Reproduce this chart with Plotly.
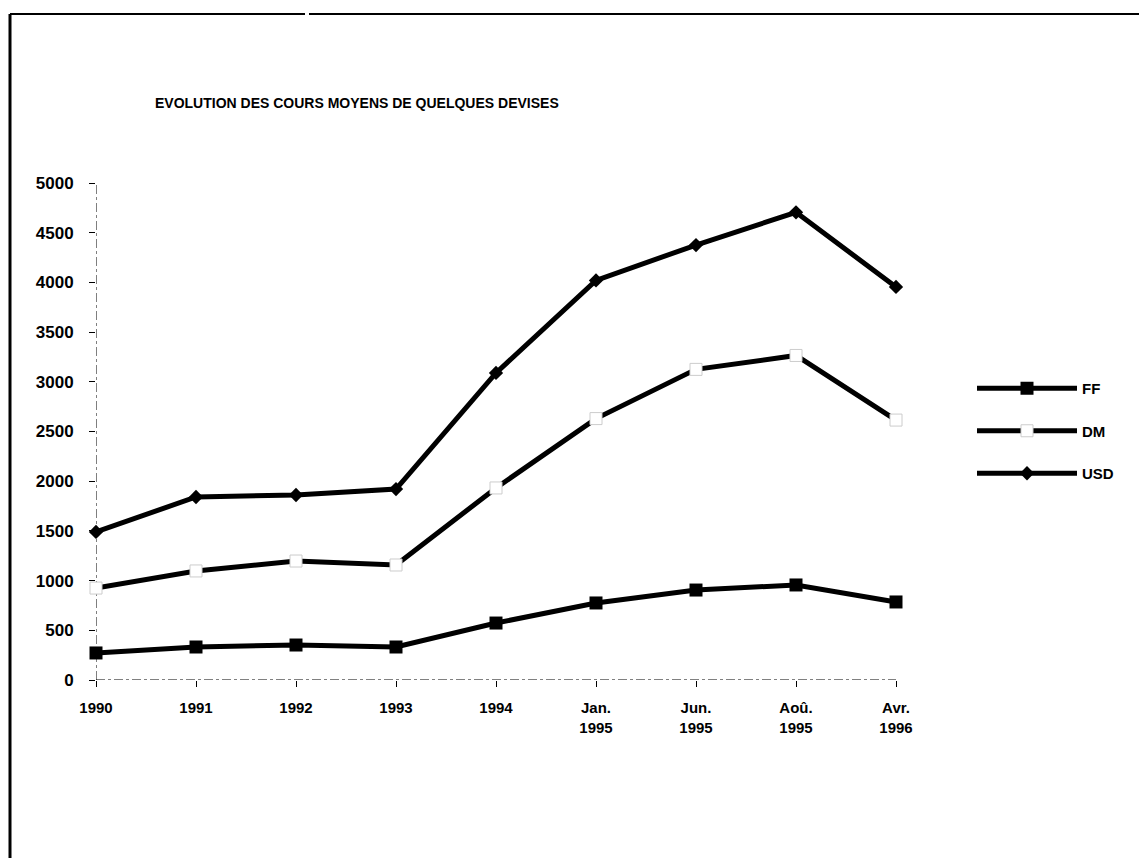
import plotly.graph_objects as go

categories = ["1990", "1991", "1992", "1993", "1994",
              "Jan.<br>1995", "Jun.<br>1995", "Aoû.<br>1995", "Avr.<br>1996"]
ff = [272, 332, 352, 332, 573, 775, 905, 956, 785]
dm = [925, 1097, 1197, 1157, 1932, 2630, 3125, 3265, 2615]
usd = [1490, 1841, 1861, 1921, 3089, 4020, 4376, 4705, 3954]
y_ticks = [0, 500, 1000, 1500, 2000, 2500, 3000, 3500, 4000, 4500, 5000]

xpos = list(range(len(categories)))

W, H = 1139, 858
L, R, T, B = 96, 223, 183, 178
pw, ph = W - L - R, H - T - B

def px(x):
    return (x - L) / pw

def py(y):
    return (H - B - y) / ph

fig = go.Figure()
fig.add_trace(go.Scatter(x=xpos, y=ff, name="FF", mode="lines+markers", legendgroup="a",
                         cliponaxis=False,
                         line=dict(color="black", width=5),
                         marker=dict(symbol="square", size=13, color="black")))
fig.add_trace(go.Scatter(x=xpos, y=dm, name="DM", mode="lines+markers", legendgroup="b",
                         cliponaxis=False,
                         line=dict(color="black", width=5),
                         marker=dict(symbol="square", size=12, color="white",
                                     line=dict(color="#cccccc", width=1))))
fig.add_trace(go.Scatter(x=xpos, y=usd, name="USD", mode="lines+markers", legendgroup="c",
                         cliponaxis=False,
                         line=dict(color="black", width=5),
                         marker=dict(symbol="diamond", size=11, color="black")))

shapes = [
    # axis lines (dash-dot)
    dict(type="line", xref="x", yref="y", x0=0, x1=0, y0=0, y1=5000, layer="below",
         line=dict(color="black", width=1, dash="dashdot")),
    dict(type="line", xref="x", yref="y", x0=0, x1=8, y0=0, y1=0, layer="below",
         line=dict(color="black", width=1, dash="dashdot")),
    # page frame
    dict(type="line", xref="paper", yref="paper", x0=px(10), x1=px(10), y0=py(14), y1=py(858),
         line=dict(color="black", width=3)),
    dict(type="line", xref="paper", yref="paper", x0=px(10), x1=px(305), y0=py(14), y1=py(14),
         line=dict(color="black", width=2)),
    dict(type="line", xref="paper", yref="paper", x0=px(309), x1=px(1139), y0=py(14), y1=py(14),
         line=dict(color="black", width=2)),
]

fig.update_layout(
    width=W, height=H,
    margin=dict(l=L, r=R, t=T, b=B),
    paper_bgcolor="white", plot_bgcolor="white",
    title=dict(text="EVOLUTION DES COURS MOYENS DE QUELQUES DEVISES",
               xref="container", yref="container", x=155 / W, y=1 - 103 / H,
               xanchor="left", yanchor="middle",
               font=dict(family="Liberation Sans, Arial", size=14, color="black", weight="bold")),
    xaxis=dict(tickmode="array", tickvals=xpos, ticktext=categories,
               range=[0, 8.2], showgrid=False, zeroline=False, showline=False,
               ticks="outside", ticklen=6, tickcolor="black", tickwidth=1,
               ticklabelstandoff=8,
               tickfont=dict(family="Liberation Sans, Arial", size=15, color="black", weight="bold")),
    yaxis=dict(tickmode="array", tickvals=y_ticks, range=[0, 5000],
               showgrid=False, zeroline=False, showline=False,
               ticks="outside", ticklen=6, tickcolor="black", tickwidth=1,
               ticklabelstandoff=12,
               tickfont=dict(family="Liberation Sans, Arial", size=17, color="black", weight="bold")),
    legend=dict(x=px(972), y=py(372), xanchor="left", yanchor="top",
                xref="paper", yref="paper",
                tracegroupgap=20, itemwidth=100,
                font=dict(family="Liberation Sans, Arial", size=15, color="black", weight="bold"),
                bgcolor="rgba(0,0,0,0)"),
    shapes=shapes,
    showlegend=True,
)

fig.write_html("out.html")
